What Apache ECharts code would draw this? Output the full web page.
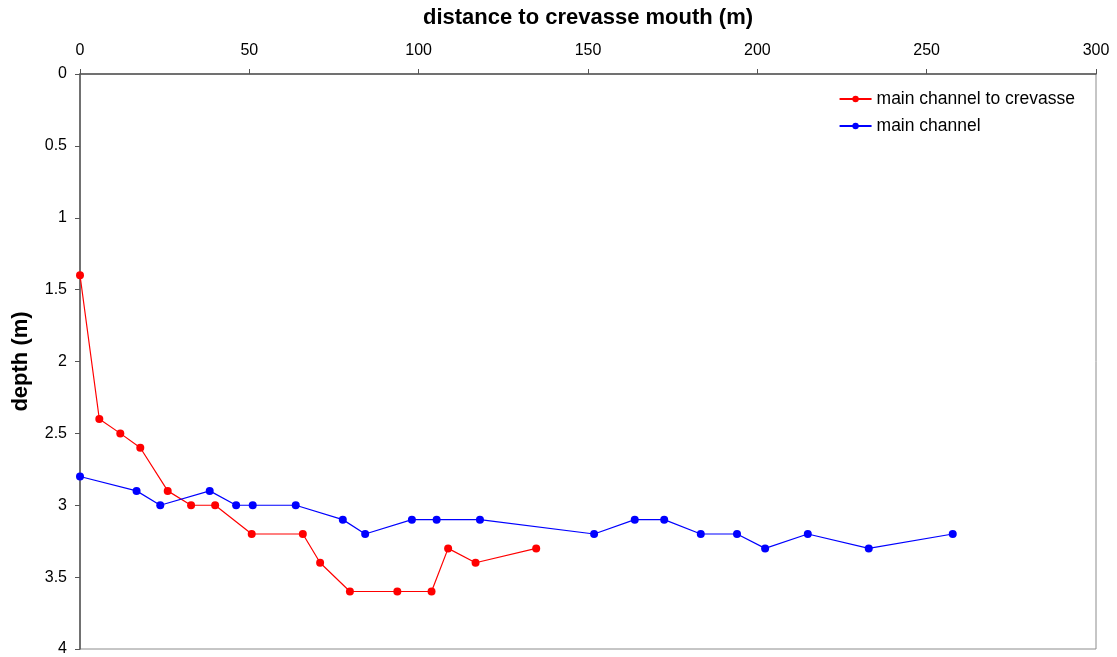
<!DOCTYPE html>
<html>
<head>
<meta charset="utf-8">
<script src="https://cdn.jsdelivr.net/npm/echarts@6/dist/echarts.min.js"></script>
<style>html,body{margin:0;padding:0;background:#fff}#c{width:1117px;height:657px}</style>
</head>
<body>
<div id="c"></div>
<script>
const redDist  = [0, 5.7, 11.9, 17.8, 25.9, 32.8, 39.9, 50.7, 65.8, 70.9, 79.7, 93.7, 103.8, 108.7, 116.8, 134.7];
const redDepth = [1.4, 2.4, 2.5, 2.6, 2.9, 3.0, 3.0, 3.2, 3.2, 3.4, 3.6, 3.6, 3.6, 3.3, 3.4, 3.3];
const blueDist  = [0, 16.7, 23.7, 38.3, 46.1, 51.0, 63.7, 77.6, 84.2, 98.0, 105.3, 118.1, 151.8, 163.8, 172.5, 183.3, 194.0, 202.3, 214.9, 232.9, 257.7];
const blueDepth = [2.8, 2.9, 3.0, 2.9, 3.0, 3.0, 3.0, 3.1, 3.2, 3.1, 3.1, 3.1, 3.2, 3.1, 3.1, 3.2, 3.2, 3.3, 3.2, 3.3, 3.2];
const seriesNames = ['main channel to crevasse', 'main channel'];
const xTitle = 'distance to crevasse mouth (m)';
const yTitle = 'depth (m)';

const zip = (a, b) => a.map((v, i) => [v, b[i]]);
const font = 'Liberation Sans, Arial, sans-serif';

const chart = echarts.init(document.getElementById('c'), null, {renderer: 'canvas'});
chart.setOption({
  animation: false,
  backgroundColor: '#fff',
  grid: {left: 80, top: 74, right: 21, bottom: 8, show: true, borderColor: '#8c8c8c', borderWidth: 1, outerBoundsMode: 'none', containLabel: false},
  legend: {
    right: 37, top: 85, orient: 'vertical', itemWidth: 32, itemHeight: 8, itemGap: 9,
    textStyle: {fontFamily: font, fontSize: 17.5, color: '#000'},
    data: seriesNames
  },
  xAxis: {
    type: 'value', position: 'top', min: 0, max: 300, interval: 50,
    name: xTitle, nameLocation: 'middle', nameGap: 45,
    nameTextStyle: {fontFamily: font, fontSize: 22, fontWeight: 'bold', color: '#000'},
    axisLine: {lineStyle: {color: '#555', width: 1.5}},
    axisTick: {show: true, length: 5, lineStyle: {color: '#555'}},
    axisLabel: {fontFamily: font, fontSize: 16, color: '#000', margin: 15},
    splitLine: {show: false}
  },
  yAxis: {
    type: 'value', inverse: true, min: 0, max: 4, interval: 0.5,
    name: yTitle, nameLocation: 'middle', nameGap: 48, nameRotate: 90,
    nameTextStyle: {fontFamily: font, fontSize: 22, fontWeight: 'bold', color: '#000'},
    axisLine: {lineStyle: {color: '#555', width: 1.5}},
    axisTick: {show: true, length: 5, lineStyle: {color: '#555'}},
    axisLabel: {fontFamily: font, fontSize: 16, color: '#000', margin: 13},
    splitLine: {show: false}
  },
  series: [
    {
      name: seriesNames[0], type: 'line', data: zip(redDist, redDepth),
      symbol: 'circle', symbolSize: 8,
      lineStyle: {color: '#ff0000', width: 1.2},
      itemStyle: {color: '#ff0000'}
    },
    {
      name: seriesNames[1], type: 'line', data: zip(blueDist, blueDepth),
      symbol: 'circle', symbolSize: 8,
      lineStyle: {color: '#0000ff', width: 1.2},
      itemStyle: {color: '#0000ff'}
    }
  ]
});
</script>
</body>
</html>
